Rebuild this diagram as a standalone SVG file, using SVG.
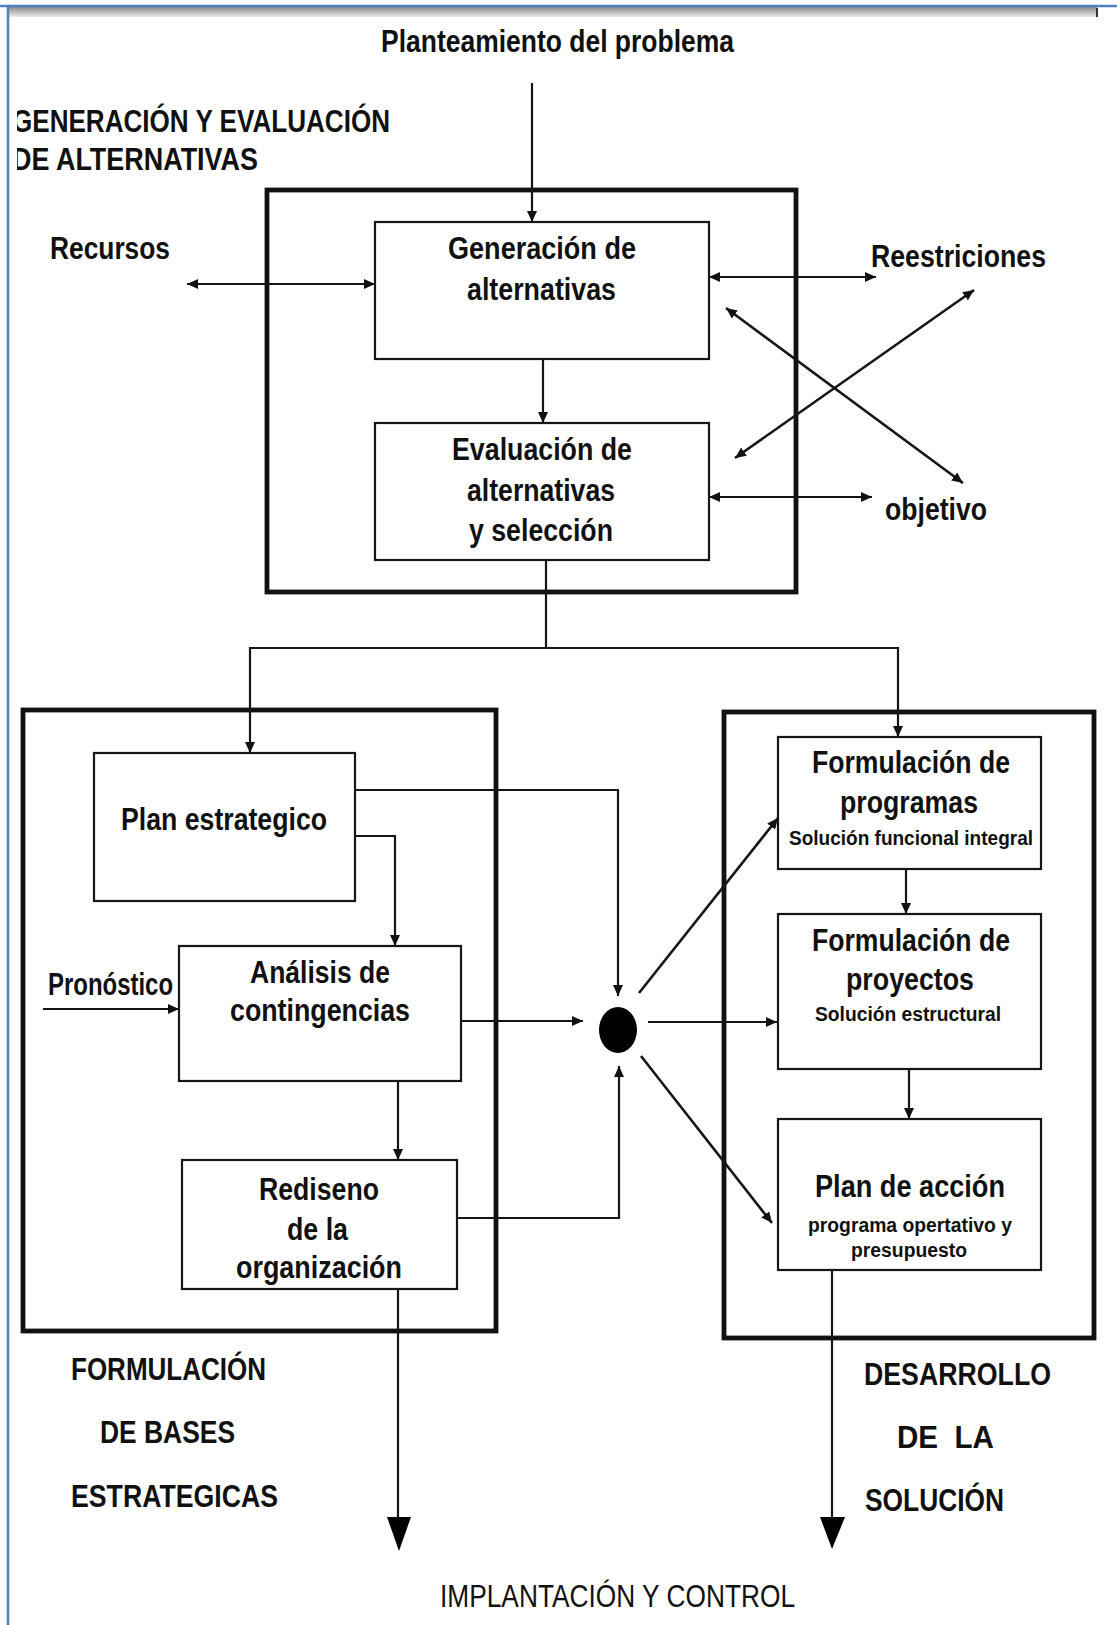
<svg xmlns="http://www.w3.org/2000/svg" width="1117" height="1625" viewBox="0 0 1117 1625">
  <style>
    .t { font-family: "Liberation Sans", Arial, sans-serif; font-weight: bold; font-size: 31px; fill: #111; }
    .ts { font-family: "Liberation Sans", Arial, sans-serif; font-weight: bold; font-size: 20px; fill: #111; }
    .tl { font-family: "Liberation Sans", Arial, sans-serif; font-weight: normal; font-size: 31px; fill: #111; }
    .box { fill: #fff; stroke: #161616; stroke-width: 2.2; }
    .frame { fill: none; stroke: #111; stroke-width: 4.8; }
    .c { fill: none; stroke: #161616; stroke-width: 2.2; }
    .cd { fill: none; stroke: #161616; stroke-width: 2.6; }
    .end { marker-end: url(#ah); }
    .both { marker-start: url(#ah); marker-end: url(#ah); }
  </style>
  <defs>
    <marker id="ah" markerUnits="userSpaceOnUse" markerWidth="12" markerHeight="10" refX="11" refY="5" orient="auto-start-reverse">
      <path d="M0,0 L11,5 L0,10 z" fill="#111"/>
    </marker>
    <linearGradient id="band" x1="0" y1="0" x2="0" y2="1">
      <stop offset="0" stop-color="#8a8a8a"/>
      <stop offset="1" stop-color="#ececec"/>
    </linearGradient>
    <clipPath id="leftClip">
      <rect x="17" y="0" width="500" height="200"/>
    </clipPath>
  </defs>

  <rect x="0" y="0" width="1117" height="1625" fill="#fff"/>

  <!-- page frame -->
  <g id="page-frame">
    <rect x="9" y="7" width="1088" height="10" fill="url(#band)"/>
    <line x1="1097" y1="8" x2="1097" y2="17" stroke="#333" stroke-width="2"/>
    <line x1="0" y1="6" x2="1117" y2="6" stroke="#4f81bd" stroke-width="2.5"/>
    <line x1="8" y1="5" x2="8" y2="1625" stroke="#4f81bd" stroke-width="2.5"/>
  </g>

  <!-- stage frames -->
  <g id="stage-generacion">
    <rect class="frame" x="267" y="190" width="529" height="402"/>
    <g clip-path="url(#leftClip)">
      <text class="t" x="12" y="132" textLength="378" lengthAdjust="spacingAndGlyphs">GENERACIÓN Y EVALUACIÓN</text>
      <text class="t" x="12" y="170" textLength="246" lengthAdjust="spacingAndGlyphs">DE ALTERNATIVAS</text>
    </g>
  </g>
  <g id="stage-bases">
    <rect class="frame" x="23" y="710" width="473" height="621"/>
    <text class="t" x="71" y="1380" textLength="195" lengthAdjust="spacingAndGlyphs">FORMULACIÓN</text>
    <text class="t" x="100" y="1443" textLength="135" lengthAdjust="spacingAndGlyphs">DE BASES</text>
    <text class="t" x="71" y="1507" textLength="207" lengthAdjust="spacingAndGlyphs">ESTRATEGICAS</text>
  </g>
  <g id="stage-desarrollo">
    <rect class="frame" x="724" y="712" width="370" height="626"/>
    <text class="t" x="864" y="1385" textLength="187" lengthAdjust="spacingAndGlyphs">DESARROLLO</text>
    <text class="t" x="897" y="1448" textLength="97" lengthAdjust="spacingAndGlyphs" xml:space="preserve">DE  LA</text>
    <text class="t" x="865" y="1511" textLength="139" lengthAdjust="spacingAndGlyphs">SOLUCIÓN</text>
  </g>

  <!-- connectors -->
  <g id="connectors">
    <line class="c end" x1="532" y1="83" x2="532" y2="222"/>
    <line class="c end" x1="543" y1="359" x2="543" y2="423"/>
    <line class="c both" x1="187" y1="284" x2="375" y2="284"/>
    <line class="c both" x1="709" y1="277" x2="876" y2="277"/>
    <line class="c both" x1="709" y1="497" x2="872" y2="497"/>
    <line class="cd both" x1="726" y1="308" x2="963" y2="483"/>
    <line class="cd both" x1="735" y1="458" x2="974" y2="290"/>

    <path class="c end" d="M546,560 V648 H250 V753"/>
    <path class="c end" d="M546,648 H898 V737"/>

    <path class="c end" d="M355,790 H618 V996"/>
    <path class="c end" d="M355,836 H395 V946"/>
    <line class="c end" x1="43" y1="1009" x2="179" y2="1009"/>
    <line class="c end" x1="461" y1="1021" x2="583" y2="1021"/>
    <line class="c end" x1="398" y1="1081" x2="398" y2="1160"/>
    <path class="c end" d="M457,1218 H619 V1066"/>

    <line class="cd end" x1="639" y1="993" x2="778" y2="818"/>
    <line class="c end" x1="648" y1="1022" x2="777" y2="1022"/>
    <line class="cd end" x1="641" y1="1056" x2="772" y2="1223"/>

    <line class="c end" x1="906" y1="869" x2="906" y2="914"/>
    <line class="c end" x1="909" y1="1069" x2="909" y2="1119"/>

    <line class="c" x1="398" y1="1289" x2="398" y2="1520"/>
    <path d="M387,1517 L411,1517 L399,1551 z" fill="#000"/>
    <line class="c" x1="832" y1="1270" x2="832" y2="1520"/>
    <path d="M820,1517 L845,1517 L832,1549 z" fill="#000"/>
  </g>

  <!-- free labels -->
  <g id="inputs">
    <text class="t" x="381" y="52" font-size="28" textLength="353" lengthAdjust="spacingAndGlyphs">Planteamiento del problema</text>
    <text class="t" x="50" y="259" textLength="120" lengthAdjust="spacingAndGlyphs">Recursos</text>
    <text class="t" x="871" y="267" textLength="175" lengthAdjust="spacingAndGlyphs">Reestriciones</text>
    <text class="t" x="885" y="520" textLength="102" lengthAdjust="spacingAndGlyphs">objetivo</text>
    <text class="t" x="48" y="995" textLength="125" lengthAdjust="spacingAndGlyphs">Pronóstico</text>
    <text class="tl" x="440" y="1607" textLength="355" lengthAdjust="spacingAndGlyphs">IMPLANTACIÓN Y CONTROL</text>
  </g>

  <!-- nodes -->
  <g id="generacion">
    <rect class="box" x="375" y="222" width="334" height="137"/>
    <text class="t" x="448" y="259" textLength="188" lengthAdjust="spacingAndGlyphs">Generación de</text>
    <text class="t" x="467" y="300" textLength="149" lengthAdjust="spacingAndGlyphs">alternativas</text>
  </g>
  <g id="evaluacion">
    <rect class="box" x="375" y="423" width="334" height="137"/>
    <text class="t" x="452" y="460" textLength="180" lengthAdjust="spacingAndGlyphs">Evaluación de</text>
    <text class="t" x="467" y="501" textLength="148" lengthAdjust="spacingAndGlyphs">alternativas</text>
    <text class="t" x="469" y="541" textLength="144" lengthAdjust="spacingAndGlyphs">y selección</text>
  </g>
  <g id="plan-estrategico">
    <rect class="box" x="94" y="753" width="261" height="148"/>
    <text class="t" x="121" y="830" textLength="206" lengthAdjust="spacingAndGlyphs">Plan estrategico</text>
  </g>
  <g id="analisis">
    <rect class="box" x="179" y="946" width="282" height="135"/>
    <text class="t" x="250" y="983" textLength="140" lengthAdjust="spacingAndGlyphs">Análisis de</text>
    <text class="t" x="230" y="1021" textLength="180" lengthAdjust="spacingAndGlyphs">contingencias</text>
  </g>
  <g id="rediseno">
    <rect class="box" x="182" y="1160" width="275" height="129"/>
    <text class="t" x="259" y="1200" textLength="120" lengthAdjust="spacingAndGlyphs">Rediseno</text>
    <text class="t" x="287" y="1240" textLength="61" lengthAdjust="spacingAndGlyphs">de la</text>
    <text class="t" x="236" y="1278" textLength="166" lengthAdjust="spacingAndGlyphs">organización</text>
  </g>
  <g id="nodo-union">
    <ellipse cx="618" cy="1030" rx="19" ry="23" fill="#000"/>
  </g>
  <g id="programas">
    <rect class="box" x="778" y="737" width="263" height="132"/>
    <text class="t" x="812" y="773" textLength="198" lengthAdjust="spacingAndGlyphs">Formulación de</text>
    <text class="t" x="840" y="813" textLength="138" lengthAdjust="spacingAndGlyphs">programas</text>
    <text class="ts" x="789" y="845" textLength="244" lengthAdjust="spacingAndGlyphs">Solución funcional integral</text>
  </g>
  <g id="proyectos">
    <rect class="box" x="778" y="914" width="263" height="155"/>
    <text class="t" x="812" y="951" textLength="198" lengthAdjust="spacingAndGlyphs">Formulación de</text>
    <text class="t" x="846" y="990" textLength="128" lengthAdjust="spacingAndGlyphs">proyectos</text>
    <text class="ts" x="815" y="1021" textLength="186" lengthAdjust="spacingAndGlyphs">Solución estructural</text>
  </g>
  <g id="plan-accion">
    <rect class="box" x="778" y="1119" width="263" height="151"/>
    <text class="t" x="815" y="1197" textLength="190" lengthAdjust="spacingAndGlyphs">Plan de acción</text>
    <text class="ts" x="808" y="1232" textLength="204" lengthAdjust="spacingAndGlyphs">programa opertativo y</text>
    <text class="ts" x="851" y="1257" textLength="116" lengthAdjust="spacingAndGlyphs">presupuesto</text>
  </g>
</svg>
